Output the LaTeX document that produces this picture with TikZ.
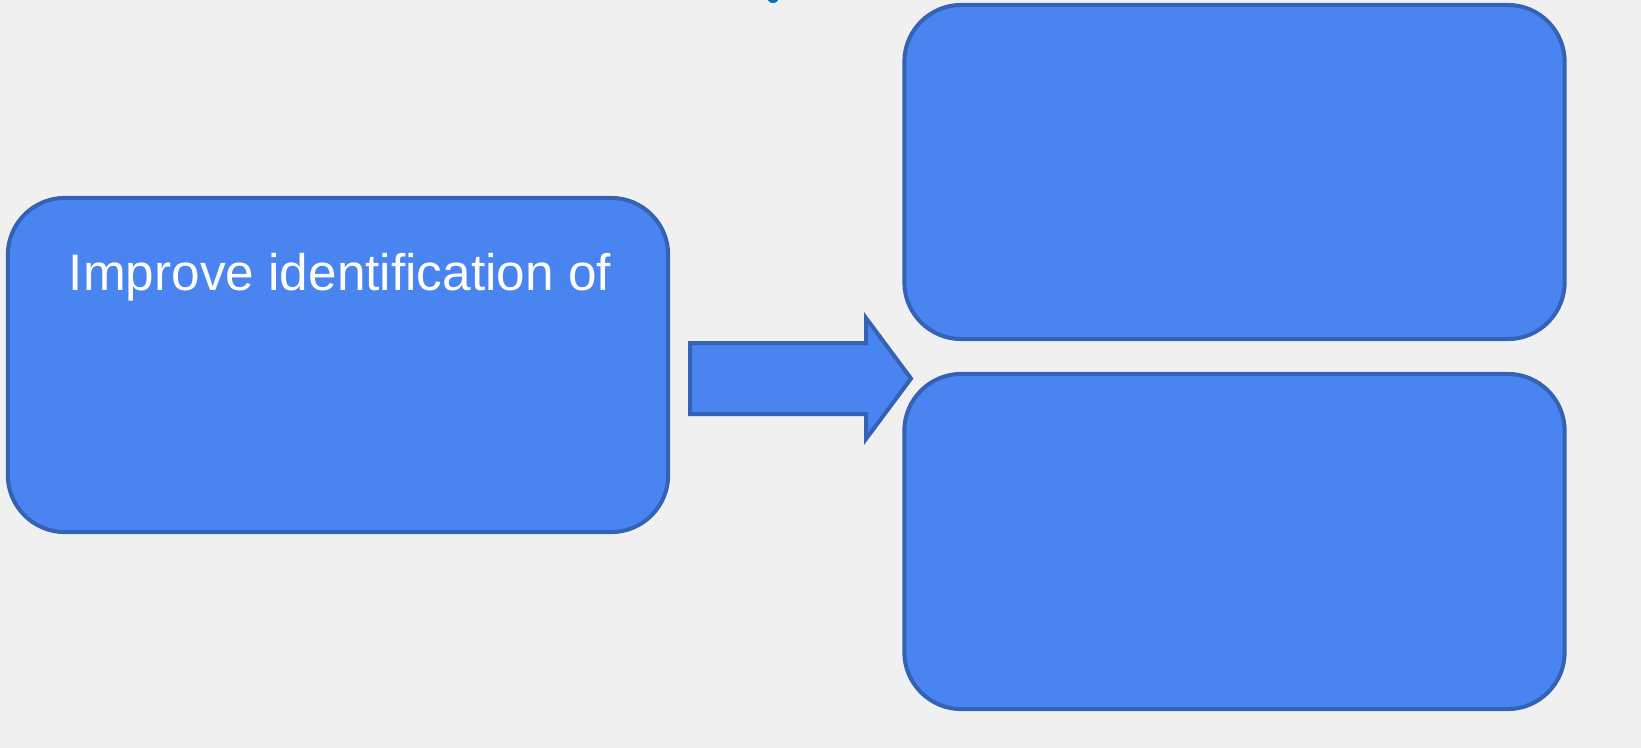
\documentclass[tikz,border=0pt]{standalone}
\usepackage{fontspec}
\setmainfont{Liberation Sans}
\usetikzlibrary{positioning}
\definecolor{boxfill}{RGB}{74,132,240}
\definecolor{boxline}{RGB}{52,98,180}
\definecolor{pagebg}{RGB}{240,240,240}
\definecolor{dotblue}{RGB}{0,112,192}
\tikzset{%
	goal/.style     = {draw=boxline, fill=boxfill, line width=0.04cm, rounded corners=0.57cm, minimum width=6.6cm, minimum height=3.34cm}, % Box
	boxtext/.style  = {text=white, font=\fontsize{14.6}{17}\selectfont, align=center}, % Text
	arrowbox/.style = {draw=boxline, fill=boxfill, line width=0.04cm}, % Arrow
}
\begin{document}
\begin{tikzpicture}[x=0.01cm,y=-0.01cm]
		\fill[pagebg] (0,0) rectangle (1641,748);
		\useasboundingbox (0,0) rectangle (1641,748);
		\fill[dotblue] (773,-3) circle (6);
		
		\node [goal] (lbox) at (338,365) {};
		\node [goal] (tbox) at (1234.5,172) {};
		\node [goal,minimum height=3.35cm] (bbox) at (1234.5,541.5) {};
		\node [boxtext,anchor=base] (ltxt) at (340,290) {Improve identification of};
		
		\draw[arrowbox] (690,343) -- (866,343) -- (866,318) -- (911,378.5) -- (866,439) -- (866,414) -- (690,414) -- cycle;
\end{tikzpicture}
\end{document}
